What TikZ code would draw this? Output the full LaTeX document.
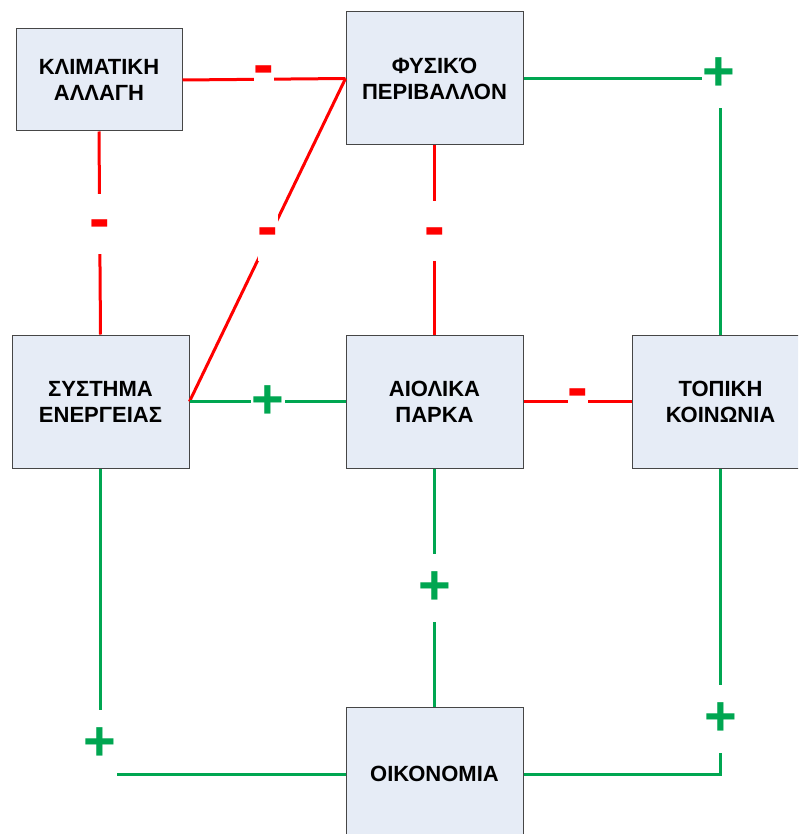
\documentclass[tikz,border=0pt]{standalone}
\usepackage{fontspec}
\setmainfont{Liberation Sans}
\definecolor{boxfill}{RGB}{230,236,246}
\definecolor{boxline}{RGB}{70,70,70}
\definecolor{negred}{RGB}{255,0,0}
\definecolor{posgreen}{RGB}{0,166,81}
\begin{document}
\begin{tikzpicture}[x=1pt,y=-1pt,
  box/.style={draw=boxline, line width=1pt, fill=boxfill, minimum width=177pt, minimum height=133pt, inner sep=0pt, align=center, font=\fontsize{22}{26}\selectfont\bfseries},
  neglink/.style={draw=negred, line width=3pt},
  poslink/.style={draw=posgreen, line width=3pt},
  minuslbl/.style={fill=white, text=negred, minimum width=18pt, minimum height=59pt, inner sep=0pt, text height=32pt, text depth=0pt, font=\fontsize{62}{66}\selectfont\bfseries},
  pluslbl/.style={fill=white, text=posgreen, minimum width=34pt, minimum height=68pt, inner sep=0pt, font=\fontsize{56}{60}\selectfont\bfseries}]
\path[use as bounding box] (0,0) rectangle (798,834);
\clip (0,0) rectangle (798,834);
% boxes
\node[box, minimum width=166pt, minimum height=102pt] (ka) at (99,80) {ΚΛΙΜΑΤΙΚΗ\\ΑΛΛΑΓΗ};
\node[box] (fp) at (434.5,78.5) {ΦΥΣΙΚΌ\\ΠΕΡΙΒΑΛΛΟΝ};
\node[box] (se) at (100.5,401.5) {ΣΥΣΤΗΜΑ\\ΕΝΕΡΓΕΙΑΣ};
\node[box] (ap) at (434.5,401.5) {ΑΙΟΛΙΚΑ\\ΠΑΡΚΑ};
\node[box] (tk) at (720.5,401.5) {ΤΟΠΙΚΗ\\ΚΟΙΝΩΝΙΑ};
\node[box] (ok) at (434.5,774) {ΟΙΚΟΝΟΜΙΑ};
% connectors
\draw[neglink] (ka.east) -- (fp.west);
\draw[neglink] (ka.south) -- (se.north);
\draw[neglink] (fp.west) -- (se.east);
\draw[neglink] (fp.south) -- (ap.north);
\draw[neglink] (ap.east) -- (tk.west);
\draw[poslink] (fp.east) -| (tk.north);
\draw[poslink] (se.east) -- (ap.west);
\draw[poslink] (se.south) |- (ok.west);
\draw[poslink] (ap.south) -- (ok.north);
\draw[poslink] (ok.east) -| (tk.south);
% labels
\node[minuslbl] (m1) at (264,70) {-};
\node[minuslbl] (m2) at (100,224) {-};
\node[minuslbl] (m3) at (268,231) {-};
\node[minuslbl] (m4) at (435,231) {-};
\node[minuslbl] (m5) at (578,392) {-};
\node[pluslbl] (p1) at (719,74) {+};
\node[pluslbl] (p2) at (267.5,402) {+};
\node[pluslbl] (p3) at (100,744) {+};
\node[pluslbl] (p4) at (435,588) {+};
\node[pluslbl] (p5) at (721,719) {+};
\end{tikzpicture}
\end{document}
